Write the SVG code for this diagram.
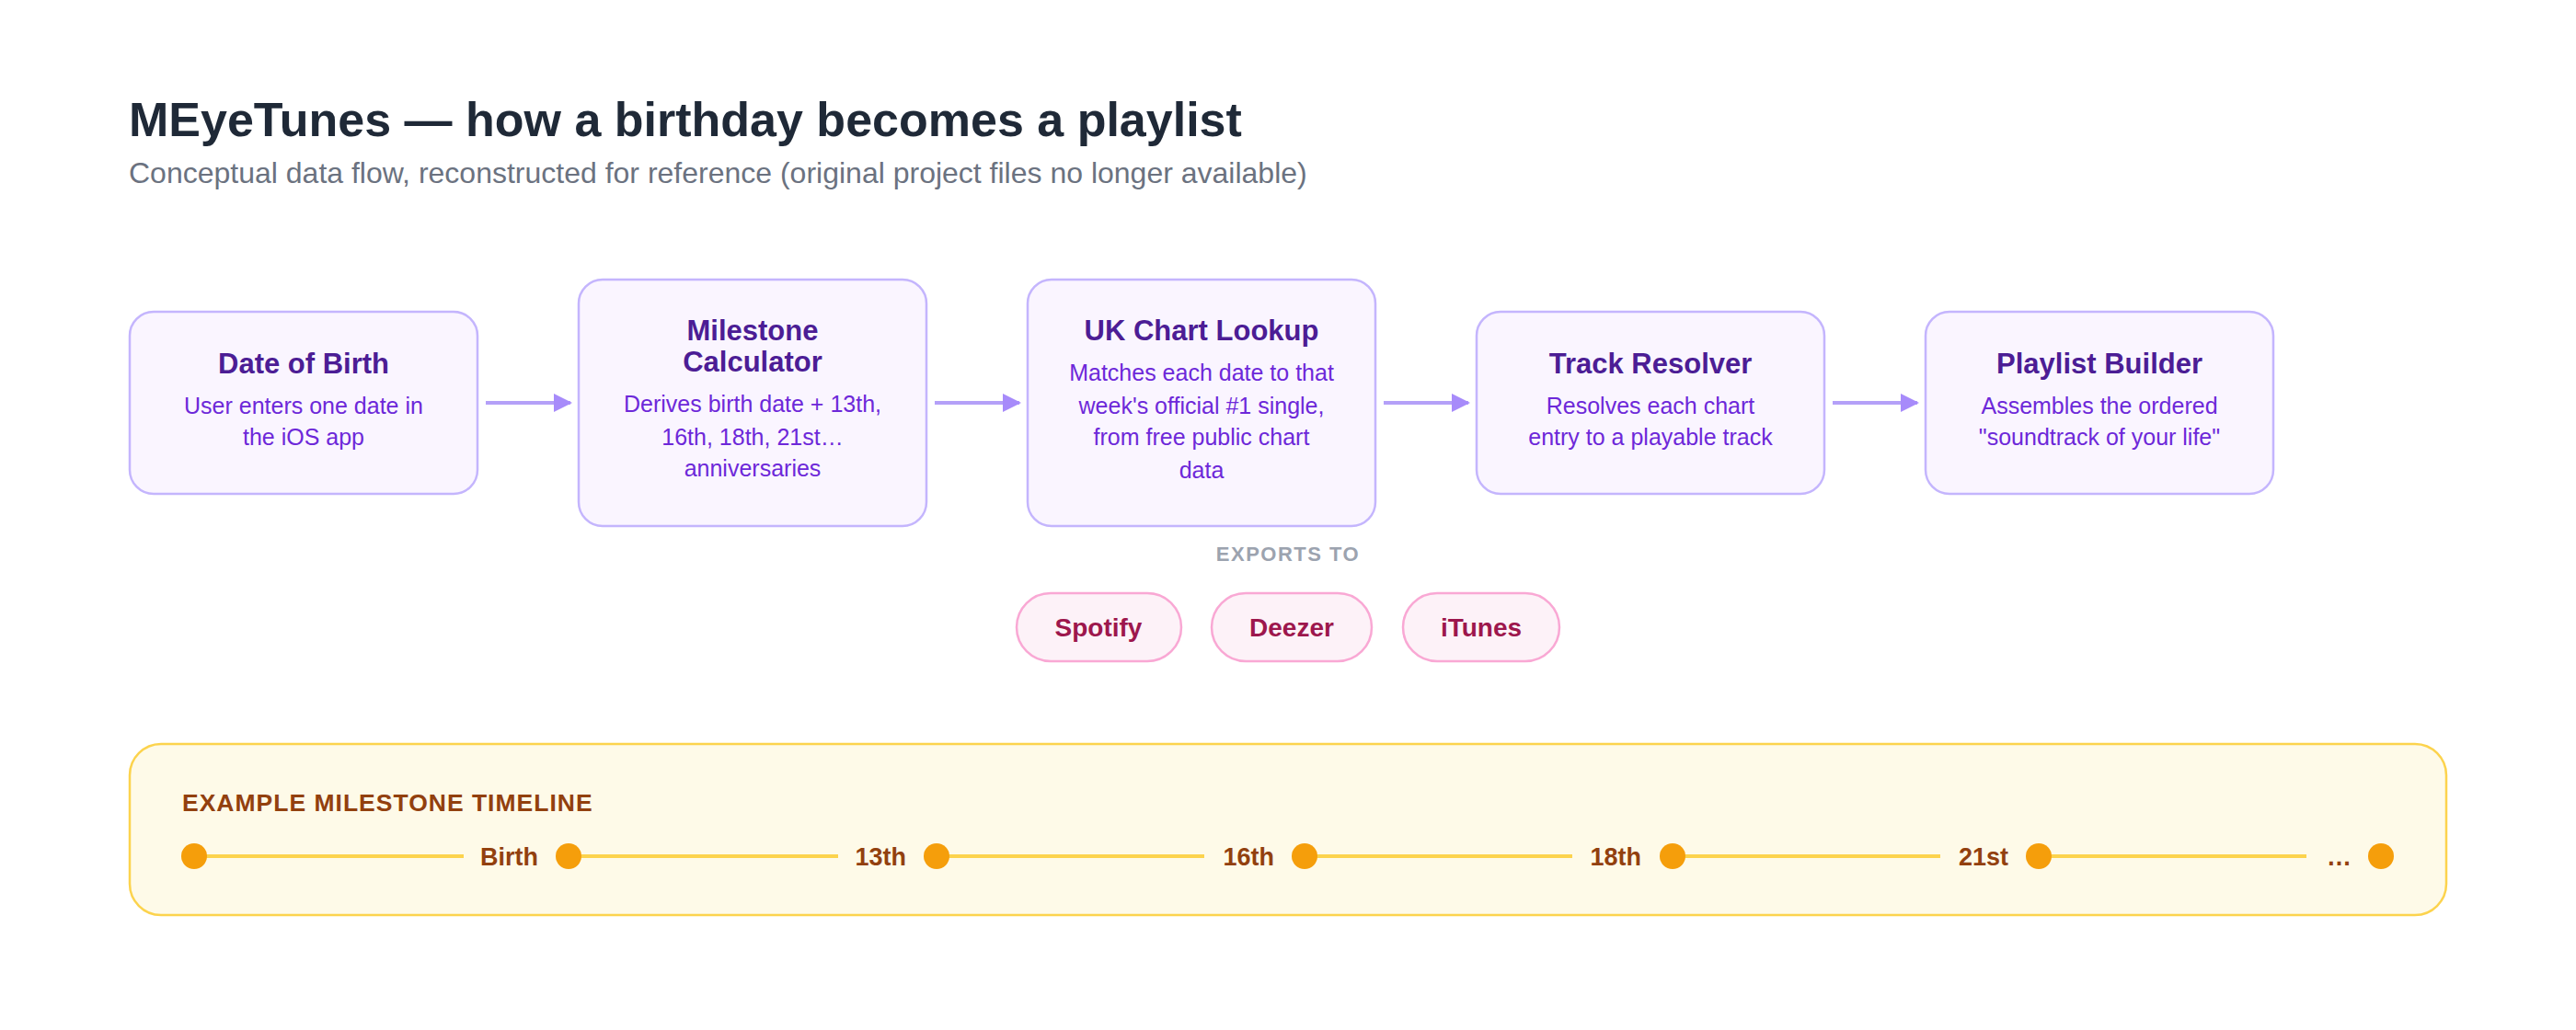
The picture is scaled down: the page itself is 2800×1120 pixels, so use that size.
<svg xmlns="http://www.w3.org/2000/svg" width="2800" height="1120" viewBox="0 0 2800 1120">
<style>
text{font-family:"Liberation Sans",Arial,sans-serif}
.node{fill:#faf5ff;stroke:#c4b5fd;stroke-width:2.5}
.nt{font-size:31px;font-weight:bold;fill:#4c1d95;text-anchor:middle}
.nd{font-size:25px;fill:#6d28d9;text-anchor:middle}
.pill{fill:#fdf2f8;stroke:#f9a8d4;stroke-width:2.5}
.pt{font-size:28px;font-weight:bold;fill:#9d174d;text-anchor:middle}
.conn{stroke:#b4a0f8;stroke-width:4;fill:none}
.tl{stroke:#fcd34d;stroke-width:4}
.dot{fill:#f59e0b}
.tlab{font-size:27px;font-weight:bold;fill:#92400e;text-anchor:end}
</style>
<defs><marker id="ah" viewBox="0 0 10 10" refX="9" refY="5" markerWidth="5" markerHeight="6" markerUnits="strokeWidth" orient="auto"><path d="M0,0L10,5L0,10z" fill="#a78bfa"/></marker></defs>
<rect width="2800" height="1120" fill="#fff"/>
<text x="140" y="148" font-size="52" font-weight="bold" fill="#1f2937">MEyeTunes — how a birthday becomes a playlist</text>
<text x="140" y="199" font-size="32" fill="#6b7280">Conceptual data flow, reconstructed for reference (original project files no longer available)</text>
<g id="connectors">
<line class="conn" x1="528" y1="438" x2="620" y2="438" marker-end="url(#ah)"/>
<line class="conn" x1="1016" y1="438" x2="1108" y2="438" marker-end="url(#ah)"/>
<line class="conn" x1="1504" y1="438" x2="1596" y2="438" marker-end="url(#ah)"/>
<line class="conn" x1="1992" y1="438" x2="2084" y2="438" marker-end="url(#ah)"/>
</g>
<g id="dob"><rect class="node" x="141" y="339" width="378" height="198" rx="26"/>
<text class="nt" x="330" y="406">Date of Birth</text>
<text class="nd" x="330" y="450">User enters one date in</text><text class="nd" x="330" y="484">the iOS app</text></g>
<g id="milestone"><rect class="node" x="629" y="304" width="378" height="268" rx="26"/>
<text class="nt" x="818" y="370">Milestone</text><text class="nt" x="818" y="404">Calculator</text>
<text class="nd" x="818" y="448">Derives birth date + 13th,</text><text class="nd" x="818" y="484">16th, 18th, 21st…</text><text class="nd" x="818" y="518">anniversaries</text></g>
<g id="chart"><rect class="node" x="1117" y="304" width="378" height="268" rx="26"/>
<text class="nt" x="1306" y="370">UK Chart Lookup</text>
<text class="nd" x="1306" y="414">Matches each date to that</text><text class="nd" x="1306" y="450">week's official #1 single,</text><text class="nd" x="1306" y="484">from free public chart</text><text class="nd" x="1306" y="520">data</text></g>
<g id="resolver"><rect class="node" x="1605" y="339" width="378" height="198" rx="26"/>
<text class="nt" x="1794" y="406">Track Resolver</text>
<text class="nd" x="1794" y="450">Resolves each chart</text><text class="nd" x="1794" y="484">entry to a playable track</text></g>
<g id="builder"><rect class="node" x="2093" y="339" width="378" height="198" rx="26"/>
<text class="nt" x="2282" y="406">Playlist Builder</text>
<text class="nd" x="2282" y="450">Assembles the ordered</text><text class="nd" x="2282" y="484">"soundtrack of your life"</text></g>
<text x="1400" y="610" font-size="22" font-weight="bold" fill="#9ca3af" text-anchor="middle" letter-spacing="1.5">EXPORTS TO</text>
<g id="spotify"><rect class="pill" x="1105" y="645" width="179" height="74" rx="37"/><text class="pt" x="1194" y="692">Spotify</text></g>
<g id="deezer"><rect class="pill" x="1317" y="645" width="174" height="74" rx="37"/><text class="pt" x="1404" y="692">Deezer</text></g>
<g id="itunes"><rect class="pill" x="1525" y="645" width="170" height="74" rx="37"/><text class="pt" x="1610" y="692">iTunes</text></g>
<g id="timeline">
<rect x="141" y="809" width="2518" height="186" rx="34" fill="#fefae8" stroke="#fcd34d" stroke-width="2.5"/>
<text x="198" y="882" font-size="26.5" font-weight="bold" fill="#92400e" letter-spacing="1">EXAMPLE MILESTONE TIMELINE</text>
<line class="tl" x1="211" y1="931" x2="504" y2="931"/>
<line class="tl" x1="618" y1="931" x2="911" y2="931"/>
<line class="tl" x1="1018" y1="931" x2="1309" y2="931"/>
<line class="tl" x1="1418" y1="931" x2="1709" y2="931"/>
<line class="tl" x1="1818" y1="931" x2="2109" y2="931"/>
<line class="tl" x1="2216" y1="931" x2="2507" y2="931"/>
<text class="tlab" x="585" y="941">Birth</text>
<text class="tlab" x="985" y="941">13th</text>
<text class="tlab" x="1385" y="941">16th</text>
<text class="tlab" x="1784" y="941">18th</text>
<text class="tlab" x="2183" y="941">21st</text>
<text class="tlab" x="2556" y="941">…</text>
<circle class="dot" cx="211" cy="931" r="14"/><circle class="dot" cx="618" cy="931" r="14"/><circle class="dot" cx="1018" cy="931" r="14"/><circle class="dot" cx="1418" cy="931" r="14"/><circle class="dot" cx="1818" cy="931" r="14"/><circle class="dot" cx="2216" cy="931" r="14"/><circle class="dot" cx="2588" cy="931" r="14"/>
</g>
</svg>
